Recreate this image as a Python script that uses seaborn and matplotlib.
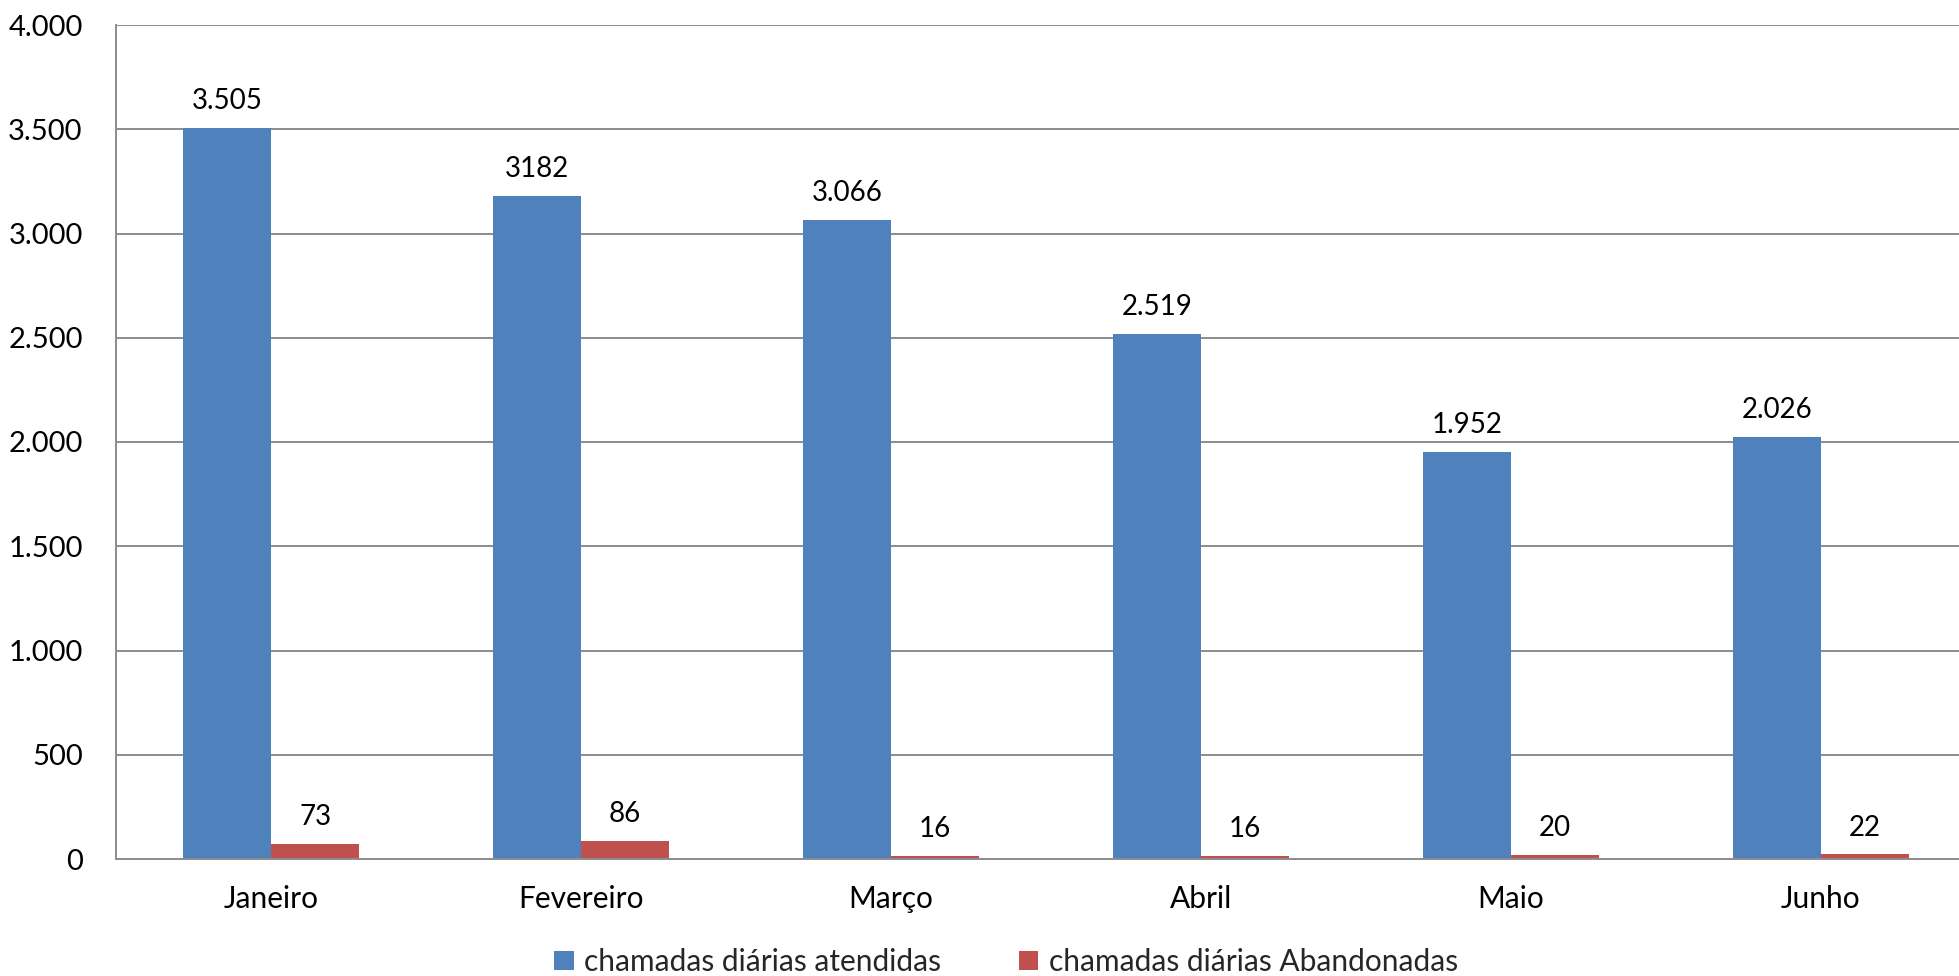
import matplotlib
matplotlib.use("Agg")
import matplotlib.pyplot as plt
from matplotlib.patches import Patch
import seaborn as sns
import pandas as pd

# Monthly daily-call figures
months = ["Janeiro", "Fevereiro", "Março", "Abril", "Maio", "Junho"]
answered = [3505, 3182, 3066, 2519, 1952, 2026]
abandoned = [73, 86, 16, 16, 20, 22]
answered_labels = ["3.505", "3182", "3.066", "2.519", "1.952", "2.026"]
abandoned_labels = ["73", "86", "16", "16", "20", "22"]
series_names = ["chamadas diárias atendidas", "chamadas diárias Abandonadas"]
y_ticks = [0, 500, 1000, 1500, 2000, 2500, 3000, 3500, 4000]
y_tick_labels = ["0", "500", "1.000", "1.500", "2.000", "2.500", "3.000", "3.500", "4.000"]

colors = ["#4F81BD", "#C0504D"]
grid_color = "#8C8C8C"
num_size = 20
tick_size = 21
text_size = 21.5

sns.set_theme(style="white")
plt.rcParams["font.family"] = ["Lato", "DejaVu Sans"]

df = pd.DataFrame({
    "mes": months * 2,
    "valor": answered + abandoned,
    "serie": [series_names[0]] * len(months) + [series_names[1]] * len(months),
})

fig = plt.figure(figsize=(19.59, 9.76), dpi=100)
ax = fig.add_axes([116 / 1959, 117 / 976, 1860 / 1959, 834 / 976])

sns.barplot(data=df, x="mes", y="valor", hue="serie", order=months,
            hue_order=series_names, palette=colors, width=0.57, gap=0,
            linewidth=0, saturation=1, ax=ax, legend=False)

ax.set_xlim(-0.5, len(months) - 0.5)
ax.set_ylim(0, 4000)
ax.set_xlabel("")
ax.set_ylabel("")

# horizontal gridlines drawn behind bars
ax.set_axisbelow(True)
ax.yaxis.grid(True, color=grid_color, linewidth=1.4)
ax.xaxis.grid(False)

ax.set_yticks(y_ticks)
ax.set_yticklabels(y_tick_labels, fontsize=tick_size, color="black")
ax.tick_params(axis="y", length=7, width=1.4, color=grid_color, pad=17)

# category dividers as major ticks, names as minor ticks
ax.set_xticks([i - 0.5 for i in range(len(months) + 1)])
ax.set_xticklabels([""] * (len(months) + 1))
ax.set_xticks(range(len(months)), minor=True)
ax.set_xticklabels(months, minor=True, fontsize=text_size, color="black")
ax.tick_params(axis="x", which="major", length=8, width=1.4, color=grid_color, direction="out")
ax.tick_params(axis="x", which="minor", length=0, pad=19)

for side in ["top", "right"]:
    ax.spines[side].set_visible(False)
for side in ["left", "bottom"]:
    ax.spines[side].set_color(grid_color)
    ax.spines[side].set_linewidth(1.4)

# value labels above each bar
containers = ax.containers
ax.bar_label(containers[0], labels=answered_labels, padding=10, fontsize=num_size, color="black")
ax.bar_label(containers[1], labels=abandoned_labels, padding=10, fontsize=num_size, color="black")

handles = [Patch(facecolor=c, edgecolor="none") for c in colors]
fig.legend(handles, series_names, loc="center", bbox_to_anchor=(1006 / 1959, 1 - 962 / 976),
           ncol=2, frameon=False, fontsize=text_size, handlelength=0.65, handleheight=0.65,
           handletextpad=0.35, columnspacing=2.6)

fig.savefig("out.png", dpi=100)
